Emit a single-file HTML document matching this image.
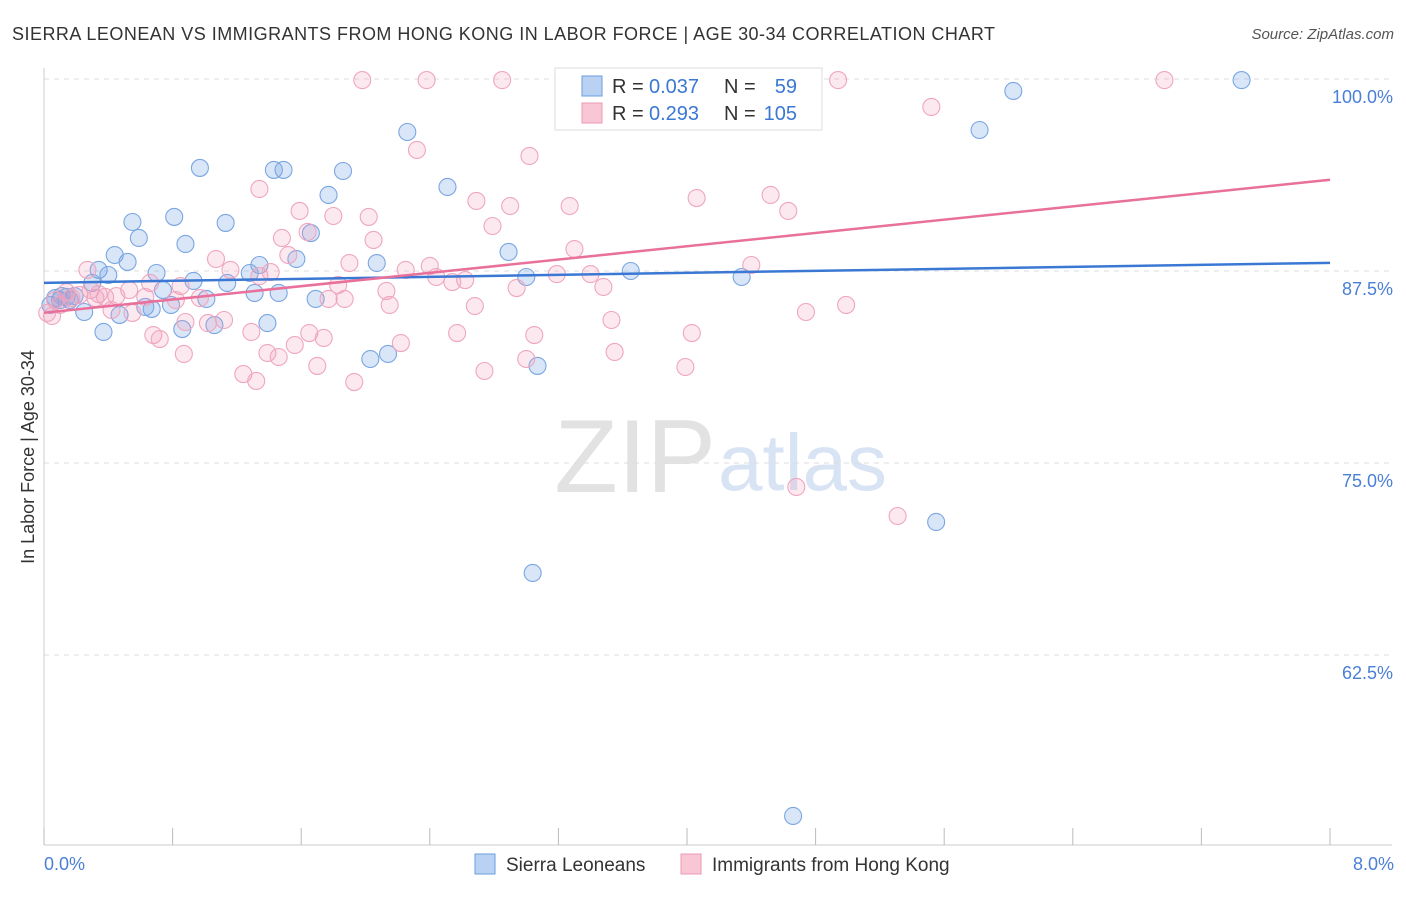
<!DOCTYPE html>
<html><head><meta charset="utf-8"><style>
body{margin:0;background:#fff;font-family:"Liberation Sans",sans-serif}
svg text{font-family:"Liberation Sans",sans-serif}
</style></head><body>
<svg id="c" width="1406" height="892" viewBox="0 0 1406 892">
<text x="12" y="40" font-size="18" fill="#333" textLength="983" lengthAdjust="spacing">SIERRA LEONEAN VS IMMIGRANTS FROM HONG KONG IN LABOR FORCE | AGE 30-34 CORRELATION CHART</text>
<text x="1394" y="39" font-size="15" fill="#555" font-style="italic" text-anchor="end">Source: ZipAtlas.com</text>
<text x="716" y="492" font-size="104" fill="#e2e2e2" text-anchor="end" font-family="Liberation Serif">ZIP</text>
<text x="718" y="490" font-size="80" fill="#d8e4f4">atlas</text>
<g id="grid"></g><g id="axes"></g><g id="pts"></g><g id="lines"></g>
<text transform="translate(34,457) rotate(-90)" font-size="18" fill="#333" text-anchor="middle">In Labor Force | Age 30-34</text>
<text x="44" y="870" font-size="18" fill="#4a7fd6">0.0%</text>
<text x="1394" y="870" font-size="18" fill="#4a7fd6" text-anchor="end">8.0%</text>
<g>
<rect x="555" y="68" width="267" height="62" fill="#fff" stroke="#ddd"/>
<rect x="582" y="76" width="20" height="20" fill="#b9d1f3" stroke="#6b9ee0"/>
<rect x="582" y="103" width="20" height="20" fill="#f8c6d5" stroke="#ec9ab5"/>
<text x="612" y="93" font-size="20" fill="#333">R =</text><text x="649" y="93" font-size="20" fill="#3a78d4">0.037</text>
<text x="724" y="93" font-size="20" fill="#333">N =</text><text x="797" y="93" font-size="20" fill="#3a78d4" text-anchor="end">59</text>
<text x="612" y="120" font-size="20" fill="#333">R =</text><text x="649" y="120" font-size="20" fill="#3a78d4">0.293</text>
<text x="724" y="120" font-size="20" fill="#333">N =</text><text x="797" y="120" font-size="20" fill="#3a78d4" text-anchor="end">105</text>
</g>
<g>
<rect x="475" y="854" width="20" height="20" fill="#b9d1f3" stroke="#6b9ee0"/>
<text x="506" y="871" font-size="19" fill="#333">Sierra Leoneans</text>
<rect x="681" y="854" width="20" height="20" fill="#f8c6d5" stroke="#ec9ab5"/>
<text x="712" y="871" font-size="19" fill="#333">Immigrants from Hong Kong</text>
</g>
</svg>
<script>
const yTicks=[100,87.5,75,62.5];
const yTickLabels=["100.0%","87.5%","75.0%","62.5%"];
const xTicks=[0,0.8,1.6,2.4,3.2,4.0,4.8,5.6,6.4,7.2,8.0];
const blueX=[7.45,6.03,5.82,2.26,0.97,1.43,1.49,1.86,2.51,1.77,0.55,0.81,1.13,0.59,1.66,0.88,0.44,2.89,0.52,1.57,2.07,1.34,3.65,4.34,0.34,0.40,0.70,1.28,3.00,0.93,1.14,0.30,0.74,1.31,1.46,1.69,1.01,0.79,0.63,0.67,0.25,0.47,1.39,1.06,0.86,0.37,2.03,2.14,3.07,5.55,3.04,4.66,0.07,0.10,0.14,0.16,0.19,0.04,0.11];
const blueY=[99.93,99.22,96.68,96.55,94.21,94.08,94.08,94.01,92.97,92.45,90.69,91.02,90.63,89.65,89.97,89.26,88.54,88.74,88.09,88.28,88.02,87.89,87.5,87.11,87.57,87.24,87.37,87.37,87.11,86.85,86.72,86.72,86.26,86.07,86.07,85.68,85.68,85.29,85.16,85.03,84.83,84.64,84.11,83.98,83.72,83.53,81.77,82.10,81.32,71.16,67.84,52.02,85.74,85.61,85.81,85.61,85.87,85.29,85.87];
const pinkX=[1.98,2.38,2.85,4.94,6.97,5.52,2.32,3.02,1.34,2.69,2.90,3.27,4.06,4.52,4.63,1.59,1.80,2.02,2.79,1.48,1.64,2.05,3.30,1.07,1.52,1.90,1.16,2.25,2.40,1.34,1.41,2.44,2.62,2.54,3.19,3.40,4.40,3.48,2.94,1.83,2.13,0.66,0.85,0.27,0.53,0.45,0.63,0.82,0.97,1.77,1.87,2.15,2.68,4.74,4.99,3.53,0.55,0.42,0.88,1.02,1.12,1.29,0.68,0.72,1.65,1.74,2.57,3.05,4.03,2.22,1.56,0.87,1.39,1.46,3.55,3.00,1.70,2.74,3.99,1.24,1.32,1.93,4.68,5.31,0.05,0.02,0.07,0.10,0.17,0.22,0.32,0.38,0.14,0.29,0.34];
const pinkY=[99.93,99.93,99.93,99.93,99.93,98.18,95.38,94.99,92.84,92.06,91.73,91.73,92.25,92.45,91.41,91.41,91.08,91.02,90.43,89.65,90.04,89.52,88.93,88.28,88.54,88.02,87.57,87.57,87.83,87.17,87.43,87.11,86.91,86.78,87.30,87.30,87.89,86.46,86.39,86.59,86.20,86.72,86.52,87.57,86.26,85.87,85.81,85.61,85.74,85.68,85.68,85.29,85.22,84.83,85.29,84.31,84.77,84.96,84.18,84.11,84.31,83.53,83.33,83.07,83.46,83.14,83.46,83.33,83.46,82.81,82.68,82.10,82.16,81.90,82.23,81.77,81.32,80.99,81.25,80.79,80.34,80.27,73.44,71.55,84.57,84.77,85.61,85.29,85.74,85.94,85.74,85.81,86.13,86.26,86.00];
const blueTrend=[86.73,88.03];
const pinkTrend=[84.78,93.44];
const sx=v=>44+v*160.75, sy=v=>79+(100-v)*15.36;
const NS="http://www.w3.org/2000/svg";
function mk(t,a,p){const e=document.createElementNS(NS,t);for(const k in a)e.setAttribute(k,a[k]);p.appendChild(e);return e;}
const grid=document.getElementById('grid'),axes=document.getElementById('axes'),pts=document.getElementById('pts'),lines=document.getElementById('lines');
yTicks.forEach((v,i)=>{
 const l=mk('line',{x1:44,x2:1392,y1:sy(v),y2:sy(v),stroke:'#ddd','stroke-dasharray':'5,5'},grid);
 
 
 const t=mk('text',{x:1393,y:sy(v)+24,'font-size':18,fill:'#4a7fd6','text-anchor':'end'},grid);
 t.textContent=yTickLabels[i];
 
 
});
const la=mk('line',{x1:44,x2:44,y1:68,y2:845,stroke:'#ccc'},axes);


const lb=mk('line',{x1:44,x2:1392,y1:845,y2:845,stroke:'#ccc'},axes);


xTicks.forEach(v=>{
 const t=mk('line',{x1:sx(v),x2:sx(v),y1:828,y2:845,stroke:'#bbb'},axes);
 
 
});
blueX.forEach((x,i)=>{
 const c=mk('circle',{cx:sx(x),cy:sy(blueY[i]),r:8.5,fill:'rgba(120,165,230,0.28)',stroke:'#7aa6e2','stroke-width':1.1},pts);
 
 
});
pinkX.forEach((x,i)=>{
 const c=mk('circle',{cx:sx(x),cy:sy(pinkY[i]),r:8.5,fill:'rgba(240,155,185,0.22)',stroke:'#efa6be','stroke-width':1.1},pts);
 
 
});
const bl=mk('line',{x1:sx(0),x2:sx(8),y1:sy(blueTrend[0]),y2:sy(blueTrend[1]),stroke:'#3a78d4','stroke-width':2.5},lines);


const pl=mk('line',{x1:sx(0),x2:sx(8),y1:sy(pinkTrend[0]),y2:sy(pinkTrend[1]),stroke:'#e8709a','stroke-width':2.5},lines);


</script>
</body></html>
